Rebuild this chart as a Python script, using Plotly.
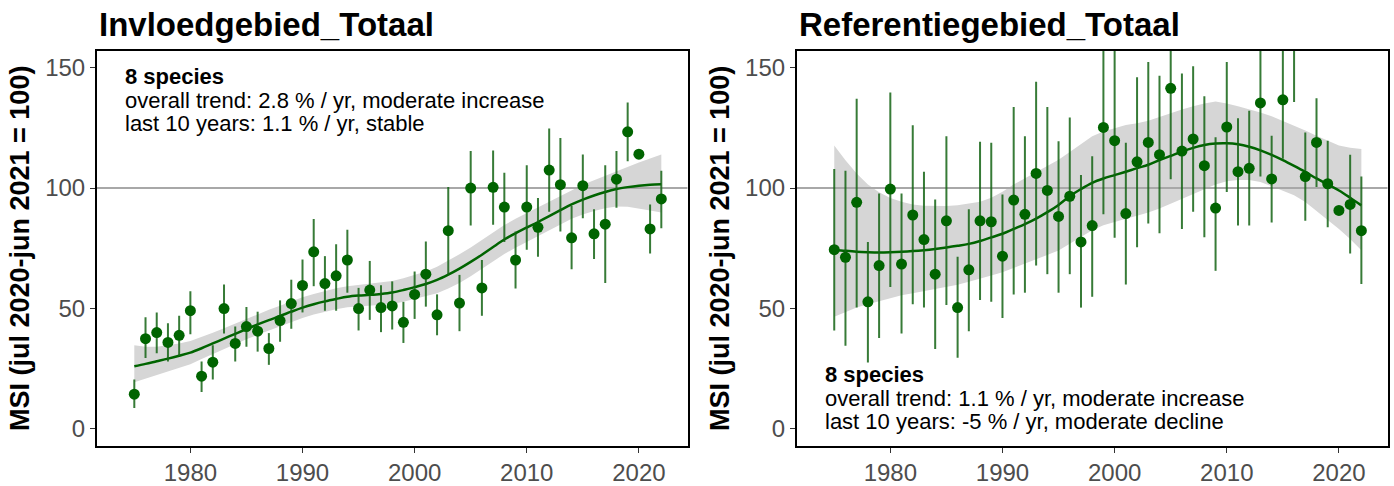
import plotly.graph_objects as go

years = list(range(1975, 2023))

# ---- Invloedgebied_Totaal (left panel) ----
L_msi = [14.3, 37.4, 39.9, 35.8, 38.8, 49.0, 21.8, 27.6, 49.9, 35.4,
         42.4, 40.5, 33.3, 44.9, 52.0, 59.5, 73.5, 60.3, 63.5, 70.1,
         49.9, 57.6, 50.3, 51.0, 44.2, 55.8, 64.2, 47.3, 82.3, 52.2,
         100.0, 58.5, 100.3, 92.1, 70.1, 92.1, 83.7, 107.5, 101.4, 79.3,
         101.0, 81.0, 85.0, 103.7, 123.4, 114.1, 83.0, 95.5]
L_lo = [8.6, 29.3, 31.3, 27.9, 30.2, 39.2, 15.2, 20.4, 39.5, 27.9,
        34.0, 32.0, 26.5, 36.1, 41.5, 48.3, 59.2, 49.0, 49.0, 56.5,
        40.8, 45.2, 40.1, 41.2, 35.6, 45.6, 50.7, 38.8, 63.9, 40.5,
        84.4, 46.9, 84.8, 77.6, 58.2, 74.4, 71.4, 90.2, 81.9, 66.3,
        87.5, 70.5, 60.5, 91.8, 111.2, 114.1, 72.8, 83.3]
L_hi = [20.4, 46.3, 48.3, 43.8, 46.9, 57.1, 27.9, 34.7, 59.9, 42.4,
        50.6, 48.6, 39.7, 53.3, 61.9, 70.3, 87.1, 71.7, 76.6, 82.7,
        58.5, 69.7, 59.6, 61.2, 52.7, 65.3, 77.8, 55.8, 100.4, 63.9,
        115.4, 70.1, 115.6, 106.4, 81.9, 109.5, 95.9, 124.8, 120.8, 92.5,
        114.0, 91.2, 109.5, 115.4, 135.6, 114.1, 93.2, 107.2]
L_trend = [25.9, 26.9, 28.0, 29.1, 30.3, 31.6, 33.4, 35.4, 37.4, 39.4,
           41.4, 43.3, 45.1, 46.8, 48.6, 50.3, 51.7, 52.9, 53.9, 54.8,
           55.3, 55.6, 56.0, 56.6, 57.6, 58.8, 60.1, 61.8, 64.0, 66.5,
           69.3, 72.3, 75.5, 78.6, 81.2, 83.6, 85.9, 88.3, 90.8, 93.2,
           95.2, 96.9, 98.4, 99.6, 100.4, 101.0, 101.4, 101.6]
L_band_lo = [19.3, 20.8, 22.3, 23.7, 25.2, 26.8, 28.9, 31.0, 33.1, 35.1,
             37.1, 39.0, 40.8, 42.5, 44.3, 46.0, 47.4, 48.6, 49.6, 50.4,
             50.8, 51.0, 51.3, 51.8, 52.7, 53.8, 54.9, 56.3, 58.2, 60.5,
             63.3, 66.3, 69.5, 72.6, 75.2, 77.6, 79.9, 82.3, 84.8, 87.2,
             89.0, 90.5, 91.6, 92.3, 92.2, 91.6, 90.7, 89.8]
L_band_hi = [34.7, 34.0, 34.0, 34.6, 35.4, 36.4, 38.0, 39.8, 41.7, 43.7,
             45.7, 47.6, 49.4, 51.1, 52.9, 54.6, 56.0, 57.2, 58.3, 59.2,
             59.8, 60.2, 60.7, 61.4, 62.5, 63.8, 65.3, 67.3, 69.8, 72.5,
             75.3, 78.3, 81.5, 84.6, 87.2, 89.6, 91.9, 94.3, 96.8, 99.2,
             101.4, 103.3, 105.2, 107.0, 108.8, 110.6, 112.3, 114.0]

# ---- Referentiegebied_Totaal (right panel) ----
R_msi = [74.4, 71.2, 94.1, 52.7, 67.8, 99.6, 68.4, 88.8, 78.6, 64.2,
         86.4, 50.3, 66.0, 86.4, 86.0, 71.7, 95.0, 89.1, 106.1, 99.0,
         88.2, 96.6, 77.6, 84.4, 125.2, 119.7, 89.4, 110.9, 119.0, 113.9,
         141.5, 115.4, 120.4, 109.3, 91.7, 125.4, 106.8, 108.2, 135.4, 103.8,
         136.7, 163.0, 104.8, 119.0, 101.8, 90.7, 93.2, 82.3]
R_lo = [40.8, 34.4, 50.3, 27.5, 37.7, 58.9, 39.5, 51.7, 50.3, 33.1,
        51.4, 29.5, 40.5, 53.5, 52.7, 46.0, 55.8, 56.5, 67.8, 64.2,
        56.5, 64.2, 50.3, 54.8, 89.1, 79.3, 59.9, 75.4, 85.3, 81.2,
        103.7, 83.0, 90.2, 79.6, 65.6, 98.4, 84.4, 84.4, 104.8, 85.7,
        112.2, 135.8, 86.4, 100.4, 83.7, 90.7, 72.8, 60.1]
R_hi = [107.9, 107.2, 137.1, 77.6, 97.7, 139.7, 97.7, 126.1, 106.8, 95.2,
        121.5, 71.4, 91.2, 119.3, 118.8, 97.3, 133.7, 121.6, 144.2, 133.7,
        119.5, 129.3, 105.4, 113.2, 170.0, 170.0, 118.8, 146.1, 152.4, 146.7,
        170.0, 147.6, 150.7, 138.2, 121.1, 152.4, 129.0, 132.2, 170.0, 121.8,
        170.0, 190.0, 123.1, 137.4, 119.7, 90.7, 113.9, 104.8]
R_trend = [74.4, 73.9, 73.5, 73.3, 73.2, 73.3, 73.5, 73.8, 74.2, 74.7,
           75.3, 76.0, 76.8, 78.0, 79.5, 81.0, 83.0, 85.0, 87.3, 90.0,
           93.0, 96.6, 99.6, 102.2, 104.0, 105.4, 106.8, 108.3, 109.7, 111.6,
           113.4, 115.2, 116.7, 117.9, 118.5, 118.6, 118.2, 117.2, 115.7, 113.8,
           111.6, 109.2, 106.7, 104.0, 101.5, 99.0, 96.0, 92.8]
R_band_lo = [46.5, 48.4, 50.3, 51.7, 53.0, 54.4, 55.4, 56.3, 57.1, 57.9,
             58.8, 59.8, 61.0, 62.2, 63.6, 65.0, 66.8, 68.5, 70.3, 72.1,
             74.0, 76.9, 79.8, 82.5, 84.5, 86.0, 87.2, 88.5, 89.8, 91.5,
             93.5, 95.5, 97.5, 99.5, 101.5, 102.8, 103.4, 103.4, 102.5, 100.8,
             99.0, 97.0, 94.2, 90.5, 86.8, 83.0, 78.8, 74.1]
R_band_hi = [117.7, 111.6, 106.1, 101.5, 98.3, 95.9, 94.3, 93.2, 92.6, 92.4,
             92.5, 92.9, 93.5, 94.3, 96.0, 98.5, 101.5, 104.0, 106.5, 109.0,
             111.8, 115.0, 118.4, 121.5, 123.5, 125.0, 126.2, 127.0, 128.0, 129.6,
             131.2, 132.7, 134.0, 135.2, 136.0, 135.2, 134.0, 132.8, 131.4, 129.9,
             128.0, 125.9, 123.9, 121.8, 119.8, 117.7, 116.8, 116.3]

titles = ["Invloedgebied_Totaal", "Referentiegebied_Totaal"]
y_title = "MSI (jul 2020-jun 2021 = 100)"
y_ticks = [0, 50, 100, 150]
x_ticks = [1980, 1990, 2000, 2010, 2020]
texts = [
    ["<b>8 species</b>", "overall trend: 2.8 % / yr, moderate increase",
     "last 10 years: 1.1 % / yr, stable"],
    ["<b>8 species</b>", "overall trend: 1.1 % / yr, moderate increase",
     "last 10 years: -5 % / yr, moderate decline"],
]

GREEN = "#006400"
FONT = "Liberation Sans, Arial, sans-serif"

panels = [
    (L_msi, L_lo, L_hi, L_trend, L_band_lo, L_band_hi),
    (R_msi, R_lo, R_hi, R_trend, R_band_lo, R_band_hi),
]

fig = go.Figure()
x_domains = [[0.0694, 0.4933], [0.5715, 0.9955]]
y_domain = [0.0652, 0.8936]
x_range = [1971.65, 2024.35]

for i, (msi, lo, hi, trend, blo, bhi) in enumerate(panels):
    xa = "x" if i == 0 else "x2"
    ya = "y" if i == 0 else "y2"
    # confidence ribbon
    fig.add_trace(go.Scatter(x=years, y=blo, mode="lines", line=dict(width=0),
                             hoverinfo="skip", showlegend=False, xaxis=xa, yaxis=ya))
    fig.add_trace(go.Scatter(x=years, y=bhi, mode="lines", line=dict(width=0),
                             fill="tonexty", fillcolor="#d6d6d6",
                             hoverinfo="skip", showlegend=False, xaxis=xa, yaxis=ya))
    # reference line at 100
    fig.add_trace(go.Scatter(x=x_range, y=[100, 100], mode="lines",
                             line=dict(color="#a8a8a8", width=2),
                             hoverinfo="skip", showlegend=False, xaxis=xa, yaxis=ya))
    # smoothed trend
    fig.add_trace(go.Scatter(x=years, y=trend, mode="lines",
                             line=dict(color=GREEN, width=2.5, shape="spline"),
                             showlegend=False, xaxis=xa, yaxis=ya))
    # yearly indices with error bars
    fig.add_trace(go.Scatter(
        x=years, y=msi, mode="markers",
        marker=dict(color=GREEN, size=11),
        error_y=dict(type="data", symmetric=False,
                     array=[h - m for h, m in zip(hi, msi)],
                     arrayminus=[m - l for m, l in zip(msi, lo)],
                     color="rgba(20,100,20,0.85)", thickness=2, width=0),
        cliponaxis=True, showlegend=False, xaxis=xa, yaxis=ya))

axis_common = dict(showgrid=False, zeroline=False, showline=True, mirror=True,
                   linecolor="black", linewidth=1.5, ticks="outside", ticklen=5,
                   tickwidth=1.2, tickcolor="#333333",
                   tickfont=dict(family=FONT, size=24, color="#4d4d4d"))
ytitle = dict(text="<b>" + y_title + "</b>", standoff=8,
              font=dict(family=FONT, size=27, color="black"))

fig.update_layout(
    width=1394, height=486,
    margin=dict(l=0, r=0, t=0, b=0),
    paper_bgcolor="white", plot_bgcolor="white",
    xaxis=dict(domain=x_domains[0], range=x_range, tickvals=x_ticks,
               anchor="y", **axis_common),
    yaxis=dict(domain=y_domain, range=[-7.2, 157.1], tickvals=y_ticks, anchor="x",
               title=ytitle, **axis_common),
    xaxis2=dict(domain=x_domains[1], range=x_range, tickvals=x_ticks,
                anchor="y2", **axis_common),
    yaxis2=dict(domain=y_domain, range=[-7.2, 157.1], tickvals=y_ticks, anchor="x2",
                title=ytitle, **axis_common),
)

# panel titles
for i, t in enumerate(titles):
    fig.add_annotation(text="<b>" + t + "</b>", xref="paper", yref="paper",
                       x=x_domains[i][0], y=0.9486, xanchor="left", yanchor="middle",
                       showarrow=False, font=dict(family=FONT, size=33, color="black"))

# statistics text
text_pos = [[0.934, 0.874, 0.815], [0.181, 0.121, 0.061]]
for i, lines in enumerate(texts):
    xr = "x domain" if i == 0 else "x2 domain"
    yr = "y domain" if i == 0 else "y2 domain"
    for j, line in enumerate(lines):
        fig.add_annotation(text=line, xref=xr, yref=yr, x=0.045, y=text_pos[i][j],
                           xanchor="left", yanchor="middle", showarrow=False,
                           font=dict(family=FONT, size=22, color="black"))

fig.write_html("out.html", config={"displayModeBar": False},
               post_script="document.body.style.margin='0';")
